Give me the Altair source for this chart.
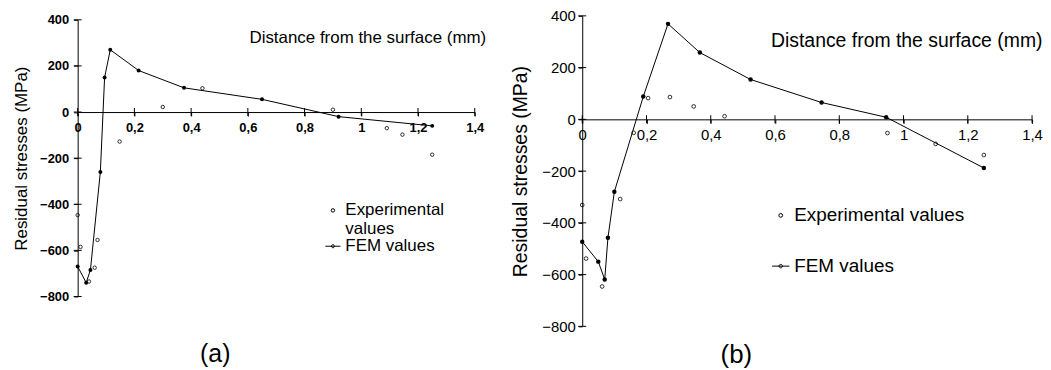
import altair as alt
import pandas as pd

# ---------------- data ----------------
fem_a_x = [0, 0.03, 0.045, 0.08, 0.095, 0.115, 0.215, 0.375, 0.65, 0.92, 1.25]
fem_a_y = [-670, -740, -685, -260, 150, 270, 180, 105, 55, -20, -60]
exp_a_x = [0, 0.01, 0.04, 0.06, 0.07, 0.148, 0.30, 0.44, 0.90, 1.09, 1.145, 1.25]
exp_a_y = [-447, -585, -735, -675, -555, -128, 22, 103, 10, -70, -98, -185]

fem_b_x = [0, 0.05, 0.07, 0.08, 0.10, 0.19, 0.267, 0.366, 0.524, 0.745, 0.946, 1.25]
fem_b_y = [-473, -550, -619, -458, -280, 88, 369, 258, 154, 65, 8, -188]
exp_b_x = [0, 0.012, 0.062, 0.118, 0.16, 0.205, 0.273, 0.347, 0.443, 0.95, 1.10, 1.25]
exp_b_y = [-331, -538, -646, -308, -52, 82, 86, 50, 12, -53, -95, -138]

series_names = ["Experimental values", "FEM values"]
x_ticks = [0, 0.2, 0.4, 0.6, 0.8, 1.0, 1.2, 1.4]
y_ticks = [-800, -600, -400, -200, 0, 200, 400]
x_title = "Distance from the surface (mm)"
y_title = "Residual stresses (MPa)"

FONT = "Liberation Sans"
FEM_SYMBOL = "M-1,0L1,0M-0.2,0A0.2,0.2 0 1,0 0.2,0A0.2,0.2 0 1,0 -0.2,0"


def frame(ex, ey, fx, fy):
    rows = [{"x": a, "y": b, "series": series_names[0]} for a, b in zip(ex, ey)]
    rows += [{"x": a, "y": b, "series": series_names[1]} for a, b in zip(fx, fy)]
    return pd.DataFrame(rows)


def panel(df, w, h, top, s, tag, tag_dx, tag_offset, tag_size, legend_xy, legend_font,
          label_off, row_pad, two_line, title_font, label_font, label_weight, x_title_xy,
          x_lab_pad, y_lab_pad, y_title_pad):
    H = h + top                       # group height; plot area starts `top` px down
    zero_from_top = top + h / 3.0     # y = 0 position (domain -800..400)
    label_expr = ("datum.value == 0 ? '0' : datum.value == 1 ? '1' : "
                  "replace(format(datum.value, '.1f'), '.', ',')")
    x_scale = alt.Scale(domain=[0, 1.4], nice=False, zero=False)
    y_scale = alt.Scale(domain=[-800, 400], nice=False, zero=False, range=[H, top])
    x_enc = alt.X(
        "x:Q", scale=x_scale,
        axis=alt.Axis(
            values=x_ticks, labelExpr=label_expr, grid=False, offset=-(H - zero_from_top),
            domainColor="black", tickColor="black", tickSize=4, domainWidth=1,
            labelFont=FONT, labelFontSize=label_font, labelFontWeight=label_weight,
            labelColor="black", labelPadding=x_lab_pad, labelFlush=False,
            title=x_title, titleFont=FONT, titleFontSize=title_font,
            titleFontWeight="normal", titleColor="black",
            titleX=x_title_xy[0], titleY=x_title_xy[1], titleAlign="right",
            titleAnchor="end", titleBaseline="middle",
        ),
    )
    y_enc = alt.Y(
        "y:Q", scale=y_scale,
        axis=alt.Axis(
            values=y_ticks, grid=False, domainColor="black", tickColor="black",
            tickSize=4, domainWidth=1,
            labelFont=FONT, labelFontSize=label_font, labelFontWeight=label_weight,
            labelColor="black", labelPadding=y_lab_pad, labelFlush=False,
            title=y_title, titleFont=FONT, titleFontSize=title_font,
            titleFontWeight="normal", titleColor="black", titlePadding=y_title_pad,
        ),
    )
    lab = ("datum.label == 'Experimental values' ? ['Experimental', 'values'] : datum.label"
           if two_line else "datum.label")
    legend = alt.Legend(
        title=None, orient="none", legendX=legend_xy[0], legendY=legend_xy[1],
        labelFont=FONT, labelFontSize=legend_font, labelColor="black", labelLimit=400,
        labelExpr=lab, rowPadding=row_pad, labelOffset=label_off,
        symbolStrokeColor="black", symbolStrokeWidth=1, symbolFillColor="transparent",
    )
    base = alt.Chart(df)
    fem = base.transform_filter(alt.datum.series == "FEM values")
    exp = base.transform_filter(alt.datum.series == "Experimental values")
    line = fem.mark_line(color="black", strokeWidth=1).encode(x=x_enc, y=y_enc)
    fem_pts = fem.mark_circle(color="black", opacity=1, size=s[1]).encode(x=x_enc, y=y_enc)
    exp_pts = exp.mark_point(shape="circle", stroke="black", strokeWidth=0.8,
                             filled=False, opacity=1).encode(
        x=x_enc, y=y_enc,
        shape=alt.Shape("series:N", scale=alt.Scale(domain=series_names,
                                                    range=["circle", FEM_SYMBOL]),
                        legend=legend),
        size=alt.Size("series:N", scale=alt.Scale(domain=series_names, range=[s[0], s[2]]),
                      legend=legend),
    )
    # cross-shaped tick marks on the axes (the axes cross at the origin)
    xt = alt.Chart(pd.DataFrame({"x": x_ticks, "y": [0] * len(x_ticks)})).mark_tick(
        orient="vertical", size=8, thickness=1, color="black", opacity=1).encode(
        x=x_enc, y=y_enc)
    yt = alt.Chart(pd.DataFrame({"x": [0] * len(y_ticks), "y": y_ticks})).mark_tick(
        orient="horizontal", size=8, thickness=1, color="black", opacity=1).encode(
        x=x_enc, y=y_enc)
    return alt.layer(xt, yt, line, fem_pts, exp_pts).properties(
        width=w, height=H,
        title=alt.TitleParams(tag, orient="bottom", anchor="start", frame="group",
                              dx=tag_dx, offset=tag_offset,
                              font=FONT, fontSize=tag_size, fontWeight="normal",
                              color="black"),
    )


df_a = frame(exp_a_x, exp_a_y, fem_a_x, fem_a_y)
df_b = frame(exp_b_x, exp_b_y, fem_b_x, fem_b_y)

pa = panel(df_a, 399, 278, 4, (12, 16, 230), "(a)", 123, 39, 25, (248, 187), 17, 4, -2,
           True, 17, 13, "bold", (410, -75), 6, 5, 9)
pb = panel(df_b, 452, 312, 0, (14, 20, 300), "(b)", 139, 8, 26, (190, 191), 19, 4, 31,
           False, 19.5, 15, "normal", (462, -79), 4, 3, 11)

chart = alt.hconcat(pa, pb, spacing=25).resolve_scale(
    shape="independent", size="independent", x="independent", y="independent"
).configure_view(stroke=None).properties(padding={"left": 4, "top": 0, "right": 0, "bottom": 0})

chart.save("out.html", embed_options={"renderer": "svg", "actions": False})
